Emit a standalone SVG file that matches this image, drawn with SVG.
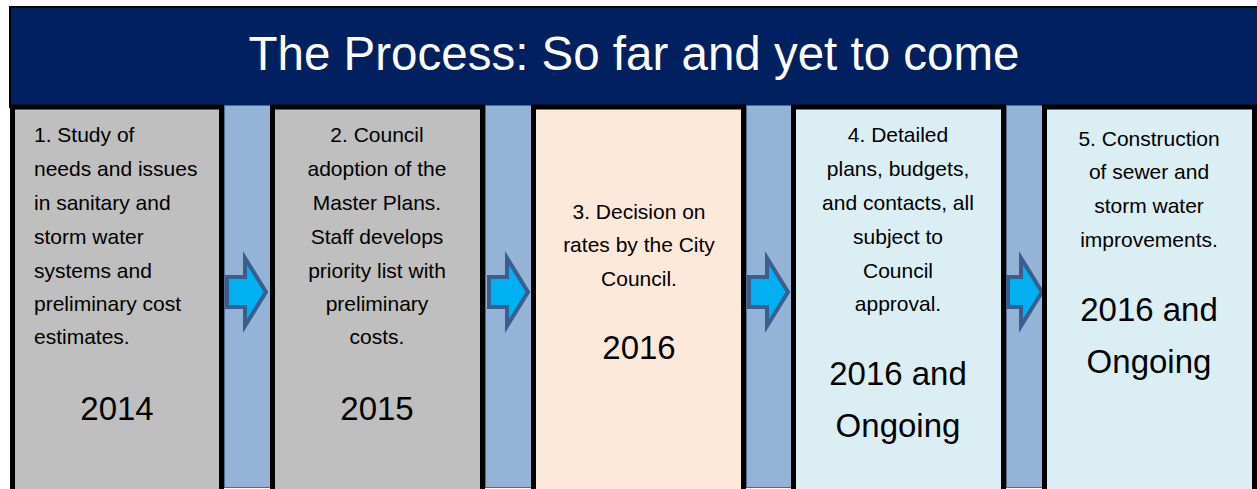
<svg xmlns="http://www.w3.org/2000/svg" width="1257" height="489" viewBox="0 0 1257 489">
  <style>
    .t { font-family: "Liberation Sans", Arial, sans-serif; fill: #000; }
    .step { font-size: 21px; }
    .year { font-size: 33px; }
    .mid { text-anchor: middle; }
    .box { stroke: #000; stroke-width: 5; }
    .bar { fill: #95b3d7; stroke: #4f6b8f; stroke-width: 1; }
    .arrow { fill: #00b0f0; stroke: #3a5f8f; stroke-width: 4; stroke-linejoin: miter; stroke-miterlimit: 10; }
  </style>
  <rect width="1257" height="489" fill="#ffffff"/>

  <!-- title banner -->
  <g id="title">
    <rect x="10" y="7" width="1252" height="100" fill="#002060" stroke="#000" stroke-width="2"/>
    <text x="634" y="70" class="t mid" style="font-size:47.5px;fill:#ffffff">The Process: So far and yet to come</text>
  </g>

  <!-- connectors: bars with arrows between the steps -->
  <g id="connectors">
    <rect class="bar" x="224.5" y="105.5" width="46" height="382"/>
    <rect class="bar" x="485.5" y="105.5" width="46" height="382"/>
    <rect class="bar" x="746.5" y="105.5" width="45" height="382"/>
    <rect class="bar" x="1006.5" y="105.5" width="36" height="382"/>
    <polygon class="arrow" points="227,277 245,277 245,258 266,292 245,326 245,307 227,307"/>
    <polygon class="arrow" points="489,277 507,277 507,258 528,292 507,326 507,307 489,307"/>
    <polygon class="arrow" points="749,277 767,277 767,258 788,292 767,326 767,307 749,307"/>
    <polygon class="arrow" points="1008,277 1021,277 1021,258 1042,292 1021,326 1021,307 1008,307"/>
  </g>

  <!-- step 1 -->
  <g id="step1">
    <rect class="box" x="12.5" y="107" width="209" height="395" fill="#bfbfbf"/>
    <text class="t step" x="34" y="142">1. Study of</text>
    <text class="t step" x="34" y="176">needs and issues</text>
    <text class="t step" x="34" y="210">in sanitary and</text>
    <text class="t step" x="34" y="244">storm water</text>
    <text class="t step" x="34" y="278">systems and</text>
    <text class="t step" x="34" y="311">preliminary cost</text>
    <text class="t step" x="34" y="344">estimates.</text>
    <text class="t year mid" x="117" y="420">2014</text>
  </g>

  <!-- step 2 -->
  <g id="step2">
    <rect class="box" x="272.5" y="107" width="210" height="395" fill="#bfbfbf"/>
    <text class="t step mid" x="377" y="142">2. Council</text>
    <text class="t step mid" x="377" y="176">adoption of the</text>
    <text class="t step mid" x="377" y="210">Master Plans.</text>
    <text class="t step mid" x="377" y="244">Staff develops</text>
    <text class="t step mid" x="377" y="278">priority list with</text>
    <text class="t step mid" x="377" y="311">preliminary</text>
    <text class="t step mid" x="377" y="344">costs.</text>
    <text class="t year mid" x="377" y="420">2015</text>
  </g>

  <!-- step 3 -->
  <g id="step3">
    <rect class="box" x="533.5" y="107" width="210" height="395" fill="#fde9d9"/>
    <text class="t step mid" x="639" y="219">3. Decision on</text>
    <text class="t step mid" x="639" y="252">rates by the City</text>
    <text class="t step mid" x="639" y="286">Council.</text>
    <text class="t year mid" x="639" y="359">2016</text>
  </g>

  <!-- step 4 -->
  <g id="step4">
    <rect class="box" x="793.5" y="107" width="210" height="395" fill="#dbeef4"/>
    <text class="t step mid" x="898" y="142">4. Detailed</text>
    <text class="t step mid" x="898" y="176">plans, budgets,</text>
    <text class="t step mid" x="898" y="210">and contacts, all</text>
    <text class="t step mid" x="898" y="244">subject to</text>
    <text class="t step mid" x="898" y="278">Council</text>
    <text class="t step mid" x="898" y="311">approval.</text>
    <text class="t year mid" x="898" y="385">2016 and</text>
    <text class="t year mid" x="898" y="437">Ongoing</text>
  </g>

  <!-- step 5 -->
  <g id="step5">
    <rect class="box" x="1044.5" y="107" width="210" height="395" fill="#dbeef4"/>
    <text class="t step mid" x="1149" y="146">5. Construction</text>
    <text class="t step mid" x="1149" y="179">of sewer and</text>
    <text class="t step mid" x="1149" y="213">storm water</text>
    <text class="t step mid" x="1149" y="247">improvements.</text>
    <text class="t year mid" x="1149" y="321">2016 and</text>
    <text class="t year mid" x="1149" y="373">Ongoing</text>
  </g>
</svg>
